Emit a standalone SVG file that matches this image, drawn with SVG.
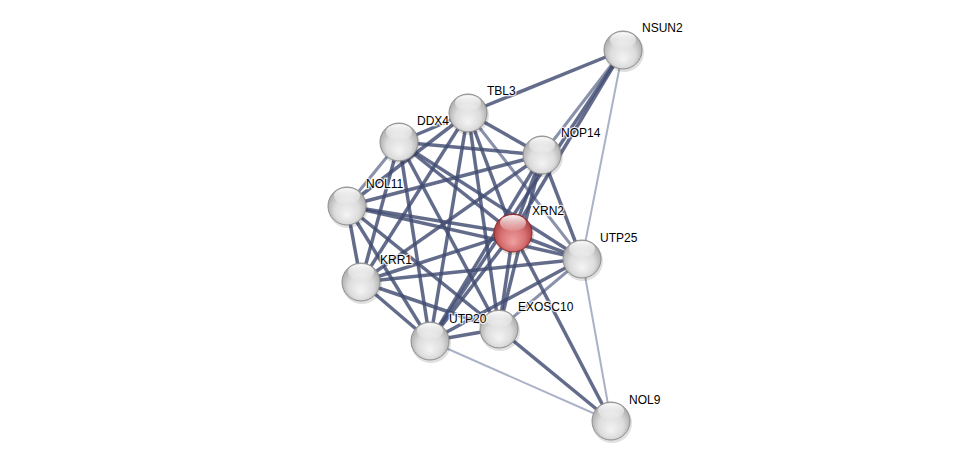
<svg xmlns="http://www.w3.org/2000/svg" width="975" height="466" viewBox="0 0 975 466">
<defs>
<radialGradient id="gw" cx="0.5" cy="0.55" r="0.55" fx="0.5" fy="0.75">
<stop offset="0" stop-color="#f4f4f4"/>
<stop offset="0.6" stop-color="#dcdcdc"/>
<stop offset="1" stop-color="#a8a8a8"/>
</radialGradient>
<radialGradient id="gr" cx="0.5" cy="0.55" r="0.55" fx="0.5" fy="0.75">
<stop offset="0" stop-color="#f0a0a0"/>
<stop offset="0.6" stop-color="#d67072"/>
<stop offset="1" stop-color="#a83a3d"/>
</radialGradient>
<linearGradient id="hl" x1="0" y1="0" x2="0" y2="1">
<stop offset="0" stop-color="#ffffff" stop-opacity="0.95"/>
<stop offset="1" stop-color="#ffffff" stop-opacity="0.1"/>
</linearGradient>
</defs>
<style>
.d{stroke:#414c72;stroke-width:3.5;stroke-opacity:0.82;fill:none}
.l{stroke:#9ca3bd;stroke-width:2;stroke-opacity:0.85;fill:none}
.m{stroke:#6c7596;stroke-width:3;stroke-opacity:0.8;fill:none}
.n{fill:url(#gw);stroke:#8e8e8e;stroke-width:1}
.r{fill:url(#gr);stroke:#8a2a2c;stroke-width:1}
.h{fill:url(#hl)}
.s{fill:#000;fill-opacity:0.12}
text{font-family:"Liberation Sans",Arial,sans-serif;font-size:12px;fill:#000;paint-order:stroke;stroke:#fff;stroke-width:2.5;stroke-opacity:0.8}
</style>
<rect width="975" height="466" fill="#fff"/>
<g id="edges">
<line class="d" x1="468" y1="113" x2="399" y2="142"/>
<line class="d" x1="468" y1="113" x2="542" y2="155"/>
<line class="d" x1="468" y1="113" x2="347" y2="206"/>
<line class="d" x1="468" y1="113" x2="513" y2="233"/>
<line class="m" x1="468" y1="113" x2="582" y2="259"/>
<line class="d" x1="468" y1="113" x2="361" y2="282"/>
<line class="d" x1="468" y1="113" x2="499" y2="329"/>
<line class="d" x1="468" y1="113" x2="430" y2="341"/>
<line class="d" x1="399" y1="142" x2="542" y2="155"/>
<line class="m" x1="399" y1="142" x2="347" y2="206"/>
<line class="d" x1="399" y1="142" x2="513" y2="233"/>
<line class="d" x1="399" y1="142" x2="582" y2="259"/>
<line class="d" x1="399" y1="142" x2="361" y2="282"/>
<line class="d" x1="399" y1="142" x2="499" y2="329"/>
<line class="d" x1="399" y1="142" x2="430" y2="341"/>
<line class="d" x1="542" y1="155" x2="347" y2="206"/>
<line class="d" x1="542" y1="155" x2="513" y2="233"/>
<line class="d" x1="542" y1="155" x2="582" y2="259"/>
<line class="d" x1="542" y1="155" x2="361" y2="282"/>
<line class="d" x1="542" y1="155" x2="499" y2="329"/>
<line class="d" x1="542" y1="155" x2="430" y2="341"/>
<line class="d" x1="347" y1="206" x2="513" y2="233"/>
<line class="d" x1="347" y1="206" x2="582" y2="259"/>
<line class="d" x1="347" y1="206" x2="361" y2="282"/>
<line class="d" x1="347" y1="206" x2="499" y2="329"/>
<line class="d" x1="347" y1="206" x2="430" y2="341"/>
<line class="d" x1="513" y1="233" x2="582" y2="259"/>
<line class="d" x1="513" y1="233" x2="361" y2="282"/>
<line class="d" x1="513" y1="233" x2="499" y2="329"/>
<line class="d" x1="513" y1="233" x2="430" y2="341"/>
<line class="d" x1="582" y1="259" x2="361" y2="282"/>
<line class="m" x1="582" y1="259" x2="499" y2="329"/>
<line class="d" x1="582" y1="259" x2="430" y2="341"/>
<line class="d" x1="361" y1="282" x2="499" y2="329"/>
<line class="d" x1="361" y1="282" x2="430" y2="341"/>
<line class="d" x1="499" y1="329" x2="430" y2="341"/>
<line class="d" x1="623" y1="50" x2="468" y2="113"/>
<line class="m" x1="623" y1="50" x2="542" y2="155"/>
<line class="d" x1="623" y1="50" x2="513" y2="233"/>
<line class="d" x1="623" y1="50" x2="430" y2="341"/>
<line class="l" x1="623" y1="50" x2="582" y2="259"/>
<line class="l" x1="430" y1="341" x2="611" y2="421"/>
<line class="d" x1="499" y1="329" x2="611" y2="421"/>
<line class="d" x1="513" y1="233" x2="611" y2="421"/>
<line class="l" x1="582" y1="259" x2="611" y2="421"/>
</g>
<g id="NSUN2"><circle class="s" cx="624" cy="52" r="20"/><circle class="n" cx="623" cy="50" r="19"/><ellipse class="h" cx="623" cy="40" rx="13" ry="8"/><text x="642" y="32">NSUN2</text></g>
<g id="TBL3"><circle class="s" cx="469" cy="115" r="20"/><circle class="n" cx="468" cy="113" r="19"/><ellipse class="h" cx="468" cy="103" rx="13" ry="8"/><text x="487" y="95">TBL3</text></g>
<g id="DDX4"><circle class="s" cx="400" cy="144" r="20"/><circle class="n" cx="399" cy="142" r="19"/><ellipse class="h" cx="399" cy="132" rx="13" ry="8"/><text x="417" y="125">DDX4</text></g>
<g id="NOP14"><circle class="s" cx="543" cy="157" r="20"/><circle class="n" cx="542" cy="155" r="19"/><ellipse class="h" cx="542" cy="145" rx="13" ry="8"/><text x="561" y="137">NOP14</text></g>
<g id="NOL11"><circle class="s" cx="348" cy="208" r="20"/><circle class="n" cx="347" cy="206" r="19"/><ellipse class="h" cx="347" cy="196" rx="13" ry="8"/><text x="366" y="188">NOL11</text></g>
<g id="XRN2"><circle class="s" cx="514" cy="235" r="20"/><circle class="r" cx="513" cy="233" r="19"/><ellipse class="h" cx="513" cy="223" rx="13" ry="8"/><text x="532" y="215">XRN2</text></g>
<g id="UTP25"><circle class="s" cx="583" cy="261" r="20"/><circle class="n" cx="582" cy="259" r="19"/><ellipse class="h" cx="582" cy="249" rx="13" ry="8"/><text x="600" y="242">UTP25</text></g>
<g id="KRR1"><circle class="s" cx="362" cy="284" r="20"/><circle class="n" cx="361" cy="282" r="19"/><ellipse class="h" cx="361" cy="272" rx="13" ry="8"/><text x="380" y="264">KRR1</text></g>
<g id="EXOSC10"><circle class="s" cx="500" cy="331" r="20"/><circle class="n" cx="499" cy="329" r="19"/><ellipse class="h" cx="499" cy="319" rx="13" ry="8"/><text x="518" y="311">EXOSC10</text></g>
<g id="UTP20"><circle class="s" cx="431" cy="343" r="20"/><circle class="n" cx="430" cy="341" r="19"/><ellipse class="h" cx="430" cy="331" rx="13" ry="8"/><text x="449" y="323">UTP20</text></g>
<g id="NOL9"><circle class="s" cx="612" cy="423" r="20"/><circle class="n" cx="611" cy="421" r="19"/><ellipse class="h" cx="611" cy="411" rx="13" ry="8"/><text x="629" y="404">NOL9</text></g>
</svg>
